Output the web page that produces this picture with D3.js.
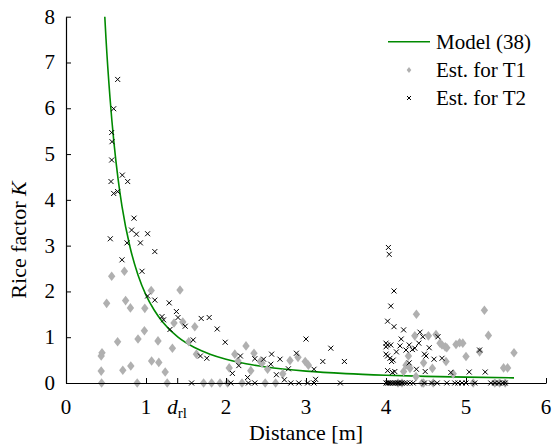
<!DOCTYPE html>
<html>
<head>
<meta charset="utf-8">
<script src="https://cdn.jsdelivr.net/npm/d3@7"></script>
<style>
  html, body { margin: 0; padding: 0; background: #fff; }
</style>
</head>
<body>
<svg id="chart" width="555" height="446"></svg>
<script>
// Axis ticks
const xTicks = [0, 1, 2, 3, 4, 5, 6];
const yTicks = [0, 1, 2, 3, 4, 5, 6, 7, 8];
const dRl = 1.39;

// Model (38) curve: [distance, K]
const modelCurve = [
  [0.485, 8.0], [0.5, 7.52], [0.55, 6.23], [0.6, 5.24], [0.65, 4.47], [0.7, 3.86],
  [0.8, 2.97], [0.9, 2.36], [1.0, 1.92], [1.1, 1.60], [1.2, 1.35], [1.4, 1.0],
  [1.6, 0.78], [1.8, 0.63], [2.0, 0.52], [2.25, 0.42], [2.5, 0.35], [3.0, 0.26],
  [3.5, 0.205], [4.0, 0.17], [4.5, 0.145], [5.0, 0.128], [5.6, 0.113]
];

// Estimates for T1: [distance, K]
const estT1 = [
  [0.571,2.33],[0.73,2.44],[1.065,2.02],[1.425,2.03],[0.508,1.74],[0.745,1.80],[0.805,1.64],
  [0.985,1.63],[1.35,1.31],[1.46,1.33],[1.61,1.23],[0.98,1.14],[0.90,0.96],[0.645,0.90],
  [1.15,0.92],[1.535,0.90],[1.33,0.76],[0.45,0.66],[0.44,0.59],[1.63,0.63],[1.07,0.48],
  [1.16,0.45],[0.81,0.37],[0.71,0.28],[0.44,0.26],[1.24,0.24],
  [0.445,0],[0.89,0],[1.265,0],[1.72,0],[1.82,0],[1.925,0],[2.02,0],[2.2,0],
  [2.11,0.63],[2.15,0.48],[2.04,0.33],[2.25,0.81],[2.35,0.65],[2.31,0.27],
  [2.43,0.47],[2.45,0.43],[2.52,0.30],[2.80,0.49],[2.90,0.56],[2.99,0.47],[3.03,0.39],
  [2.71,0.20],[2.49,0],[2.62,0],
  [4.38,1.50],[4.36,1.03],[4.53,1.03],[4.625,1.06],[4.675,0.87],[4.70,0.83],[4.74,0.79],
  [4.76,0.77],[4.875,0.84],[4.92,0.88],[4.96,0.87],[4.28,0.59],[4.47,0.44],[4.25,0.39],
  [4.30,0.32],[4.22,0.25],[4.58,0.32],[4.75,0.47],[4.84,0.20],[4.375,0.14],[5.0,0.58],
  [5.23,1.59],[5.28,1.04],[5.60,0.66],[5.47,0.33],[5.52,0.33],[5.17,0.68],
  [4.15,0],[4.2,0],[4.45,0],[4.47,0],[4.59,0],[5.09,0],[5.36,0],[5.42,0],[5.49,0]
];

// Estimates for T2: [distance, K]
const estT2 = [
  [0.646,6.63],[0.596,5.99],[0.571,5.47],[0.575,5.27],[0.571,4.87],[0.704,4.54],[0.771,4.40],
  [0.5625,4.40],[0.596,4.14],[0.646,4.18],[0.85,3.60],[0.82,3.34],[0.88,3.25],[1.02,3.26],
  [0.554,3.15],[0.7625,3.06],[0.93,3.06],[1.11,2.87],[0.70,2.69],[0.95,2.44],
  [1.02,1.90],[1.11,1.81],[1.29,1.75],[1.38,1.56],[1.40,1.43],[1.20,1.45],[1.22,1.38],
  [1.49,1.24],[1.30,1.17],[1.69,1.41],[1.79,1.43],[1.89,1.18],[1.99,0.89],[1.59,0.94],
  [1.76,0.54],[1.68,0.59],[2.18,0.59],[2.16,0.38],[2.08,0.21],[2.27,0.12],[2.36,0.53],
  [3.0,0.96],[3.31,0.76],[3.21,0.47],[3.48,0.47],[2.57,0.63],[2.47,0.52],[2.675,0.52],
  [2.56,0.41],[2.78,0.31],[3.10,0.30],[2.63,0.18],[3.12,0.08],[2.73,0.07],[2.88,0.65],
  [1.57,0],[2.06,0],[2.28,0],[2.36,0],[2.81,0],[2.91,0],[3.02,0],[3.10,0],[3.43,0],
  [4.03,2.96],[4.04,2.81],[4.10,2.01],[4.06,1.68],[4.02,1.35],[4.10,1.23],[4.22,1.16],
  [4.19,0.96],[4.0,0.87],[4.02,0.83],[4.0,0.79],[4.06,0.83],[4.175,0.81],[4.29,0.83],
  [4.425,1.11],[4.46,1.01],[4.41,0.87],[4.36,0.76],[4.33,0.73],[4.25,0.72],[4.65,1.01],
  [4.54,0.77],[4.0,0.63],[4.02,0.59],[4.05,0.54],[4.07,0.47],[4.09,0.50],[4.13,0.68],
  [4.29,0.44],[4.48,0.63],[4.50,0.59],[4.60,0.52],[4.70,0.54],[4.38,0.30],[4.49,0.25],
  [4.02,0.27],[4.08,0.23],[4.11,0.25],[4.81,0.23],[5.17,0.72],[5.04,0.24],[5.24,0.24],
  [4.0,0],[4.02,0],[4.03,0],[4.05,0],[4.07,0],[4.09,0],[4.11,0],[4.13,0],[4.15,0],[4.17,0],
  [4.2,0],[4.23,0],[4.26,0],[4.3,0],[4.34,0],[4.48,0],[4.57,0],[4.64,0],[4.76,0],[4.86,0],
  [4.9,0],[4.95,0],[5.0,0],[5.11,0],[5.31,0],[5.36,0],[5.41,0],[5.46,0],[5.49,0]
];

const legendLabels = ["Model (38)", "Est. for T1", "Est. for T2"];

const serif = '"Liberation Serif"';
const svg = d3.select("#chart");
const plotLeft = 66, plotRight = 546, plotTop = 16.7, plotBottom = 383;

const x = d3.scaleLinear().domain([0, 6]).range([plotLeft, plotRight]);
const y = d3.scaleLinear().domain([0, 8]).range([plotBottom, plotTop]);

const green = "#008a00";
const grey = "#b0b0b0";

// Model curve
svg.append("path")
  .datum(modelCurve)
  .attr("fill", "none")
  .attr("stroke", green)
  .attr("stroke-width", 1.6)
  .attr("d", d3.line().x(d => x(d[0])).y(d => y(d[1])).curve(d3.curveMonotoneX));

// T1 diamonds
const diamond = "M0,-4.8L3.7,0L0,4.8L-3.7,0Z";
svg.append("g").selectAll("path")
  .data(estT1).join("path")
  .attr("d", diamond)
  .attr("fill", grey)
  .attr("transform", d => `translate(${x(d[0])},${y(d[1])})`);

// T2 crosses
const cross = "M-2.5,-2.5L2.5,2.5M-2.5,2.5L2.5,-2.5";
svg.append("g").selectAll("path")
  .data(estT2).join("path")
  .attr("d", cross)
  .attr("fill", "none")
  .attr("stroke", "#000")
  .attr("stroke-width", 1)
  .attr("transform", d => `translate(${x(d[0])},${y(d[1])})`);

// Axes (ticks pointing inward)
const xAxis = svg.append("g").attr("transform", `translate(0,${plotBottom})`)
  .call(d3.axisBottom(x).tickValues(xTicks.concat([dRl])).tickSizeInner(-5).tickSizeOuter(0).tickFormat(""));
const yAxis = svg.append("g").attr("transform", `translate(${plotLeft},0)`)
  .call(d3.axisLeft(y).tickValues(yTicks).tickSizeInner(-5).tickSizeOuter(0).tickFormat(""));
[xAxis, yAxis].forEach(g => {
  g.select(".domain").attr("stroke", "#000").attr("stroke-width", 1.2);
  g.selectAll(".tick line").attr("stroke", "#000").attr("stroke-width", 1);
});

function txt(sel, size) {
  return sel.style("font-family", serif).style("font-size", (size || 21) + "px").attr("fill", "#000");
}

// Tick labels
txt(svg.append("g").selectAll("text")
  .data(xTicks).join("text")
  .attr("x", d => x(d)).attr("y", plotBottom + 31)
  .attr("text-anchor", "middle"))
  .text(d => d);

const dl = txt(svg.append("text")
  .attr("x", x(dRl)).attr("y", plotBottom + 31)
  .attr("text-anchor", "middle"));
dl.append("tspan").style("font-style", "italic").text("d");
dl.append("tspan").attr("dy", 4).style("font-size", "15px").text("rl");

txt(svg.append("g").selectAll("text")
  .data(yTicks).join("text")
  .attr("x", plotLeft - 11).attr("y", d => y(d) + 7)
  .attr("text-anchor", "end"))
  .text(d => d);

// Axis titles
txt(svg.append("text")
  .attr("x", x(3)).attr("y", 440)
  .attr("text-anchor", "middle"), 22)
  .text("Distance [m]");

const yt = txt(svg.append("text")
  .attr("transform", `translate(26,240) rotate(-90)`)
  .attr("text-anchor", "middle"), 22);
yt.append("tspan").text("Rice factor ");
yt.append("tspan").style("font-style", "italic").text("K");

// Legend
const lg = svg.append("g");
const rows = [41.7, 70, 98];
lg.append("line").attr("x1", 388).attr("x2", 430).attr("y1", rows[0]).attr("y2", rows[0])
  .attr("stroke", green).attr("stroke-width", 1.6);
lg.append("path").attr("d", "M0,-3L2.3,0L0,3L-2.3,0Z").attr("fill", grey)
  .attr("transform", `translate(409,${rows[1]})`);
lg.append("path").attr("d", "M-2,-2L2,2M-2,2L2,-2").attr("stroke", "#000").attr("fill", "none")
  .attr("transform", `translate(409,${rows[2]})`);
txt(lg.selectAll("text.lab").data(legendLabels).join("text")
  .attr("class", "lab")
  .attr("x", 436).attr("y", (d, i) => rows[i] + 7))
  .text(d => d);
</script>
</body>
</html>
